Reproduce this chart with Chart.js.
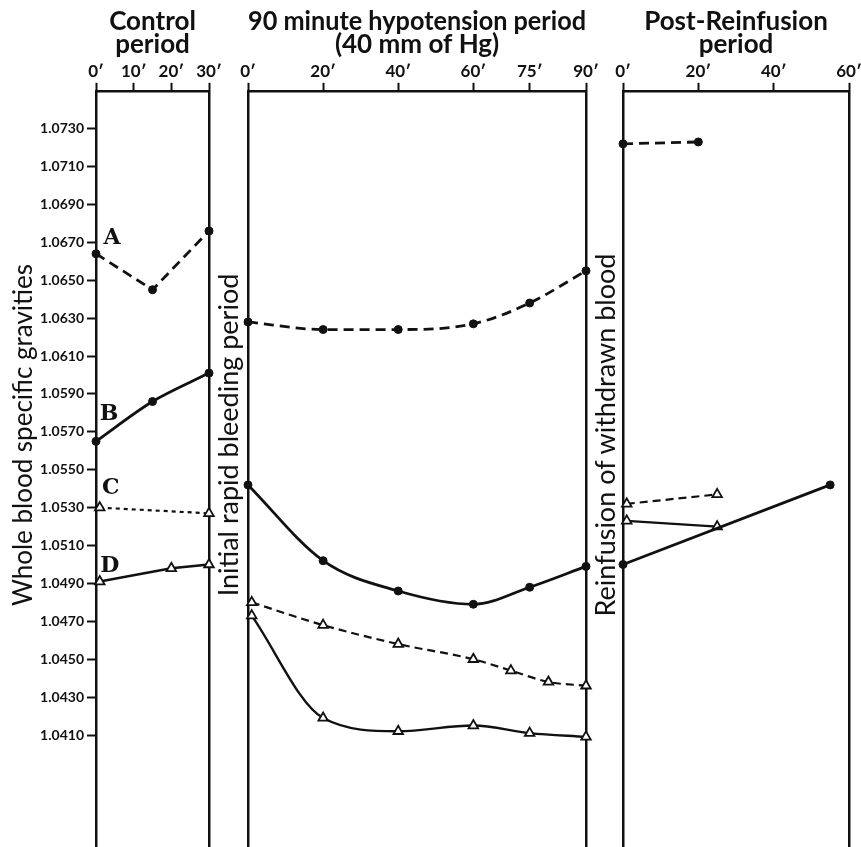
<!DOCTYPE html>
<html lang="en">
<head>
<meta charset="UTF-8">
<title>Whole blood specific gravities</title>
<script src="https://cdn.jsdelivr.net/npm/chart.js"></script>
<style>
    body { margin: 0; background: #fff; }
    #wrap { position: relative; width: 861px; height: 847px; overflow: hidden; background: #fff; }
    canvas { position: absolute; top: 0; }
    .vlabel {
        position: absolute;
        width: 420px;
        height: 30px;
        line-height: 30px;
        text-align: center;
        font-family: Lato, sans-serif;
        font-size: 27px;
        color: #111;
        white-space: nowrap;
        transform: rotate(-90deg);
    }
</style>
</head>
<body>
<div id="wrap">
    <canvas id="ctrlChart" width="232" height="856" style="left:0"></canvas>
    <canvas id="hypoChart" width="394" height="856" style="left:215px"></canvas>
    <canvas id="postChart" width="261" height="856" style="left:600px"></canvas>
    <div class="vlabel" style="left:-188px; top:420px; font-size:26px">Whole blood specific gravities</div>
    <div class="vlabel" style="left:18px; top:420px">Initial rapid bleeding period</div>
    <div class="vlabel" style="left:395px; top:420px">Reinfusion of withdrawn blood</div>
</div>
<script>
    // specific gravity ticks on the left axis
    const yTicks = [1.0410, 1.0430, 1.0450, 1.0470, 1.0490, 1.0510, 1.0530, 1.0550, 1.0570,
                    1.0590, 1.0610, 1.0630, 1.0650, 1.0670, 1.0690, 1.0710, 1.0730];
    const ctrlTicks = [0, 10, 20, 30];
    const hypoTicks = [0, 20, 40, 60, 75, 90];
    const postTicks = [0, 20, 40, 60];

    // control period (minutes / specific gravity)
    const ctrlA_min = [0, 15, 30];
    const ctrlA_sg  = [1.0664, 1.0645, 1.0676];
    const ctrlB_min = [0, 15, 30];
    const ctrlB_sg  = [1.0565, 1.0586, 1.0601];
    const ctrlC_min = [1, 30];
    const ctrlC_sg  = [1.0530, 1.0527];
    const ctrlD_min = [1, 20, 30];
    const ctrlD_sg  = [1.0491, 1.0498, 1.0500];

    // 90 minute hypotension period
    const hypoA_min = [0, 20, 40, 60, 75, 90];
    const hypoA_sg  = [1.0628, 1.0624, 1.0624, 1.0627, 1.0638, 1.0655];
    const hypoB_min = [0, 20, 40, 60, 75, 90];
    const hypoB_sg  = [1.0542, 1.0502, 1.0486, 1.0479, 1.0488, 1.0499];
    const hypoC_min = [1, 20, 40, 60, 70, 80, 90];
    const hypoC_sg  = [1.0480, 1.0468, 1.0458, 1.0450, 1.0444, 1.0438, 1.0436];
    const hypoD_min = [1, 20, 40, 60, 75, 90];
    const hypoD_sg  = [1.0473, 1.0419, 1.0412, 1.0415, 1.0411, 1.0409];

    // post-reinfusion period
    const postA_min = [0, 20];
    const postA_sg  = [1.0722, 1.0723];
    const postB_min = [0, 55];
    const postB_sg  = [1.0500, 1.0542];
    const postC_min = [1, 25];
    const postC_sg  = [1.0532, 1.0537];
    const postD_min = [1, 25];
    const postD_sg  = [1.0523, 1.0520];

    const ink = '#111';
    const solidDot = { borderColor: ink, borderWidth: 2.8, pointStyle: 'circle', pointRadius: 4,
                       pointBackgroundColor: ink, pointBorderColor: ink, pointBorderWidth: 1 };
    const dashDot = { ...solidDot, borderDash: [10, 6] };
    const solidTri = { borderColor: ink, borderWidth: 2.4, pointStyle: 'triangle', pointRadius: 5.5,
                       pointBackgroundColor: '#fff', pointBorderColor: ink, pointBorderWidth: 1.8 };
    const dashTri = { ...solidTri, borderDash: [8, 5], borderWidth: 2.2 };
    const dotTri = { ...solidTri, borderDash: [4, 4], borderWidth: 2.2 };

    function series(mins, vals, style, extra) {
        return {
            data: mins.map((m, i) => ({ x: m, y: vals[i] })),
            clip: false,
            fill: false,
            ...style,
            ...extra
        };
    }

    // letters A-D next to the first point of each control curve
    const tagPlugin = {
        id: 'seriesTags',
        afterDatasetsDraw(chart, args, opts) {
            if (!opts.offsets) return;
            const ctx = chart.ctx;
            ctx.save();
            ctx.font = 'bold 22px "DejaVu Serif", serif';
            ctx.fillStyle = ink;
            ctx.textAlign = 'center';
            ctx.textBaseline = 'middle';
            chart.data.datasets.forEach((ds, i) => {
                if (!ds.tag) return;
                const pt = chart.getDatasetMeta(i).data[0];
                const off = opts.offsets[i];
                ctx.fillText(ds.tag, pt.x + off[0], pt.y + off[1]);
            });
            ctx.restore();
        }
    };
    Chart.register(tagPlugin);

    // no extra edge padding from tick labels
    function noPad(s) {
        s.paddingTop = 0;
        s.paddingBottom = 0;
        s.paddingLeft = 0;
        s.paddingRight = 0;
    }

    function makePanel(id, cfg) {
        new Chart(document.getElementById(id), {
            type: 'line',
            data: { datasets: cfg.datasets },
            options: {
                responsive: false,
                animation: false,
                layout: { padding: 0 },
                scales: {
                    x: {
                        type: 'linear',
                        position: 'top',
                        min: 0,
                        max: cfg.xMax,
                        afterBuildTicks: s => { s.ticks = cfg.xTicks.map(v => ({ value: v })); },
                        afterFit: s => { s.height = 34; noPad(s); },
                        ticks: {
                            callback: v => v + '′',
                            font: { family: 'Lato', weight: 'bold', size: 17 },
                            color: ink,
                            padding: 1,
                            maxRotation: 0,
                            autoSkip: false
                        },
                        grid: { drawOnChartArea: false, tickLength: 8, tickWidth: 2, tickColor: ink },
                        border: { color: ink, width: 2.5 }
                    },
                    y: {
                        type: 'linear',
                        position: 'left',
                        min: 1.035,
                        max: 1.075,
                        afterBuildTicks: s => { s.ticks = yTicks.map(v => ({ value: v })); },
                        afterFit: s => { s.width = cfg.leftWidth; noPad(s); },
                        ticks: {
                            display: cfg.yLabels,
                            callback: v => v.toFixed(4),
                            font: { family: 'Lato', weight: 'bold', size: 14 },
                            color: ink,
                            padding: 3
                        },
                        grid: { drawOnChartArea: false, drawTicks: cfg.yLabels, tickLength: 9, tickWidth: 2, tickColor: ink },
                        border: { color: ink, width: 2.5 }
                    },
                    y2: {
                        type: 'linear',
                        position: 'right',
                        min: 1.035,
                        max: 1.075,
                        afterFit: s => { s.width = cfg.rightWidth; noPad(s); },
                        ticks: { display: false },
                        grid: { drawOnChartArea: false, drawTicks: false },
                        border: { color: ink, width: 2.5 }
                    }
                },
                plugins: {
                    legend: { display: false },
                    tooltip: { enabled: false },
                    title: {
                        display: true,
                        text: cfg.title,
                        fullSize: false,
                        color: ink,
                        font: { family: 'Lato', size: 26, weight: 'bold', lineHeight: 0.9 },
                        padding: { top: 10, bottom: 0 }
                    },
                    seriesTags: { offsets: cfg.tagOffsets }
                }
            }
        });
    }

    makePanel('ctrlChart', {
        title: ['Control', 'period'],
        xMax: 30, xTicks: ctrlTicks,
        leftWidth: 96, rightWidth: 23, yLabels: true,
        tagOffsets: [[16, -15], [13, -27], [11, -19], [10, -15]],
        datasets: [
            series(ctrlA_min, ctrlA_sg, dashDot, { tag: 'A', tension: 0 }),
            series(ctrlB_min, ctrlB_sg, solidDot, { tag: 'B', tension: 0.3 }),
            series(ctrlC_min, ctrlC_sg, dotTri, { tag: 'C', tension: 0 }),
            series(ctrlD_min, ctrlD_sg, solidTri, { tag: 'D', tension: 0 })
        ]
    });

    makePanel('hypoChart', {
        title: ['90 minute hypotension period', '(40 mm of Hg)'],
        xMax: 90, xTicks: hypoTicks,
        leftWidth: 33, rightWidth: 23, yLabels: false,
        datasets: [
            series(hypoA_min, hypoA_sg, dashDot, { cubicInterpolationMode: 'monotone' }),
            series(hypoB_min, hypoB_sg, solidDot, { cubicInterpolationMode: 'monotone' }),
            series(hypoC_min, hypoC_sg, dashTri, { cubicInterpolationMode: 'monotone' }),
            series(hypoD_min, hypoD_sg, solidTri, { cubicInterpolationMode: 'monotone' })
        ]
    });

    makePanel('postChart', {
        title: ['Post-Reinfusion', 'period'],
        xMax: 60, xTicks: postTicks,
        leftWidth: 23, rightWidth: 12, yLabels: false,
        datasets: [
            series(postA_min, postA_sg, dashDot, {}),
            series(postB_min, postB_sg, solidDot, {}),
            series(postC_min, postC_sg, dashTri, {}),
            series(postD_min, postD_sg, solidTri, {})
        ]
    });
</script>
</body>
</html>
